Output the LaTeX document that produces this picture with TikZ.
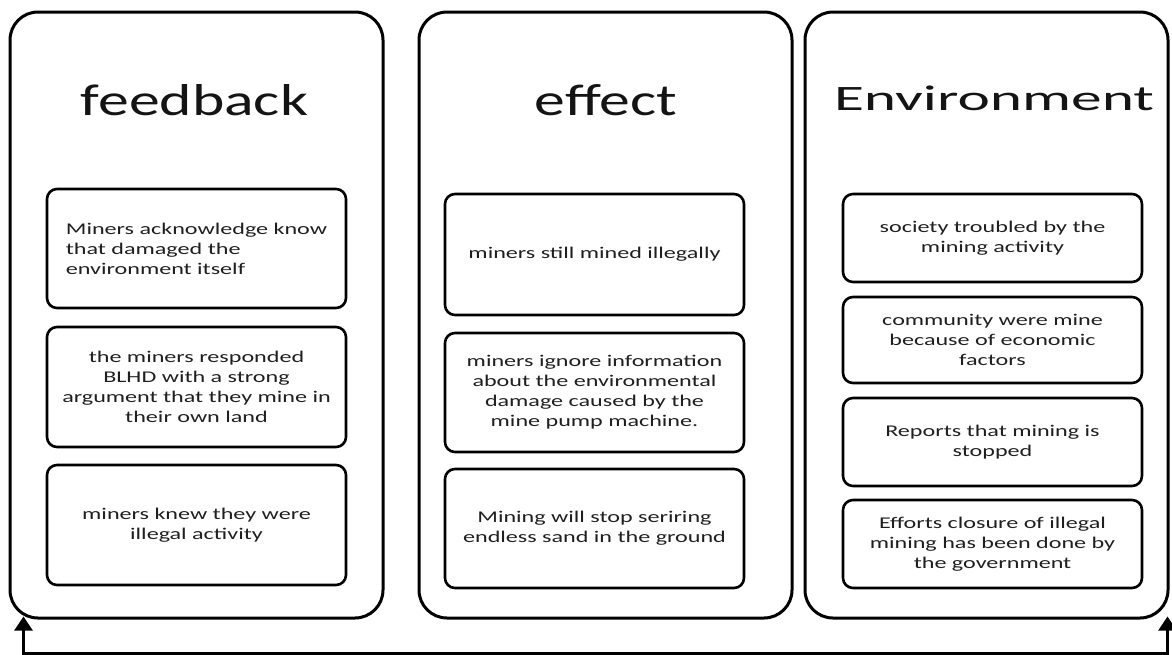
\documentclass[tikz,border=0pt]{standalone}
\usepackage{fontspec}
\setmainfont{Carlito}
\newfontfamily\boxfont[FakeStretch=1.47]{Carlito}
\usetikzlibrary{arrows.meta}
\tikzset{
  outerbox/.style={draw=black, line width=1.5pt, rounded corners=14pt, minimum height=303pt, inner sep=0pt},
  itembox/.style={draw=black, line width=1.3pt, rounded corners=5pt, minimum width=149.5pt, inner sep=0pt, align=center,
    font=\boxfont\fontsize{8.2}{10}\selectfont, text=black!88},
  title/.style={anchor=base, inner sep=0pt, text=black!92},
  backline/.style={draw=black, line width=1.3pt, {Triangle[width=9pt,length=7pt]}-{Triangle[width=9pt,length=7pt]}}
}
\begin{document}
\begin{tikzpicture}[x=0.5pt,y=-0.5pt]
\useasboundingbox (0,0) rectangle (1172,654);
% outer columns
\node[outerbox, minimum width=186.5pt] (fb) at (196.5,315) {};
\node[outerbox, minimum width=186.5pt] (ef) at (605.5,315) {};
\node[outerbox, minimum width=181.5pt] (env) at (986.5,315) {};
% titles
\node[title] (tfb) at (194.5,115) {\resizebox{113.5pt}{15.5pt}{feedback}};
\node[title] (tef) at (606,115) {\resizebox{71pt}{15.5pt}{effect}};
\node[title] (tenv) at (994,110) {\resizebox{160pt}{12.3pt}{Environment}};
% feedback items
\node[itembox, minimum height=59.5pt, align=left] (f1) at (196.5,248.5) {Miners acknowledge know\\that damaged the\\environment itself};
\node[itembox, minimum height=60pt] (f2) at (196.5,387) {the miners responded\\BLHD with a strong\\argument that they mine in\\their own land};
\node[itembox, minimum height=60pt] (f3) at (196.5,525) {miners knew they were\\illegal activity};
% effect items
\node[itembox, minimum height=60.5pt] (e1) at (594.5,254.5) {miners still mined illegally};
\node[itembox, minimum height=59.5pt] (e2) at (594.5,392.5) {miners ignore information\\about the environmental\\damage caused by the\\mine pump machine.};
\node[itembox, minimum height=59.5pt] (e3) at (594.5,528.5) {Mining will stop seriring\\endless sand in the ground};
% environment items
\node[itembox, minimum height=44pt] (v1) at (992.5,238) {society troubled by the\\mining activity};
\node[itembox, minimum height=43pt] (v2) at (992.5,340) {community were mine\\because of economic\\factors};
\node[itembox, minimum height=44pt] (v3) at (992.5,442) {Reports that mining is\\stopped};
\node[itembox, minimum height=44pt] (v4) at (992.5,544) {Efforts closure of illegal\\mining has been done by\\the government};
% feedback loop connector
\draw[backline] ([xshift=7.5pt,yshift=1.5pt]fb.south west) -- ++(0,-18.5pt) -| ([xshift=-1pt,yshift=1.5pt]env.south east);
\end{tikzpicture}
\end{document}
